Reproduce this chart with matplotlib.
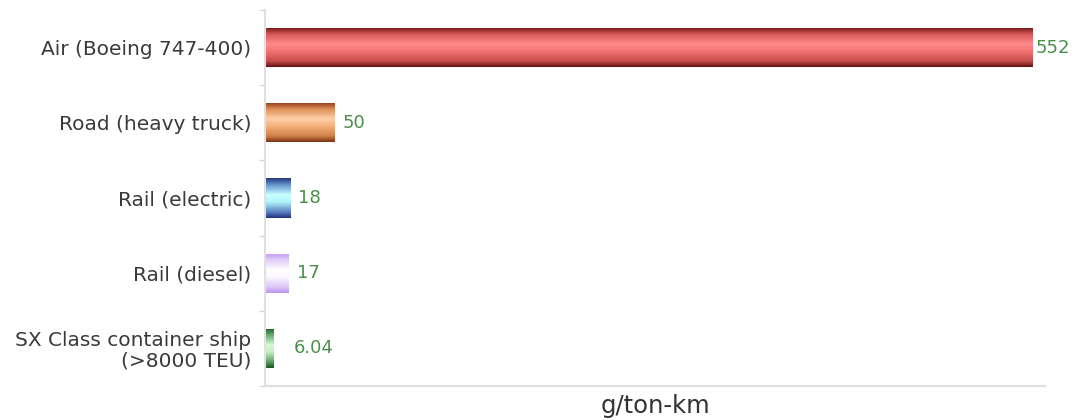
import numpy as np
import matplotlib
matplotlib.use("Agg")
import matplotlib.pyplot as plt
from matplotlib.colors import LinearSegmentedColormap

# CO2 emissions by freight transport mode
categories = [
    "Air (Boeing 747-400)",
    "Road (heavy truck)",
    "Rail (electric)",
    "Rail (diesel)",
    "SX Class container ship\n(>8000 TEU)",
]
values = [552, 50, 18, 17, 6.04]
value_labels = ["552", "50", "18", "17", "6.04"]
unit_label = "g/ton-km"

# cylinder-style shading per bar: edge -> highlight -> edge
bar_shades = [
    ["#6a1212", "#d85858", "#ff8c8c", "#f47474", "#c84c4c", "#5e1010"],
    ["#8a3a14", "#e0905a", "#ffd0a8", "#f6b07a", "#d08048", "#7a3010"],
    ["#26367e", "#6a9ad0", "#c8ffff", "#b0f4fa", "#5a80c0", "#22307a"],
    ["#c29af0", "#e2cff8", "#ffffff", "#fbf7ff", "#dcc6f6", "#bd92ee"],
    ["#1c5a26", "#6aae70", "#d8f8d8", "#c6eec6", "#5a9c60", "#185222"],
]
label_pad = [2, 6, 6, 6, 15]

fig = plt.figure(figsize=(10.81, 4.2), dpi=100)
ax = fig.add_axes([0.2451, 0.081, 0.7216, 0.895])

y = np.arange(len(categories))
bars = ax.barh(y, values, height=0.52, color="none", edgecolor="none")

grad = np.linspace(0, 1, 256).reshape(-1, 1)
for bar, shades in zip(bars, bar_shades):
    cmap = LinearSegmentedColormap.from_list(
        "shade", list(zip([0.0, 0.18, 0.42, 0.6, 0.85, 1.0], shades)))
    x0, y0 = bar.get_x(), bar.get_y()
    w, h = bar.get_width(), bar.get_height()
    im = ax.imshow(grad, cmap=cmap, aspect="auto", interpolation="bilinear",
                   extent=[x0, x0 + w, y0 + h, y0], zorder=2)
    im.set_clip_path(bar)

for bar, text, pad in zip(bars, value_labels, label_pad):
    ax.annotate(text, (bar.get_width(), bar.get_y() + bar.get_height() / 2),
                xytext=(pad, 0), textcoords="offset points",
                ha="left", va="center", fontsize=13, color="#4a8f4a")

ax.set_xlim(0, 561)
ax.set_ylim(len(categories) - 0.5, -0.5)
ax.set_yticks(y)
ax.set_yticklabels(categories, fontsize=14.5, color="#3a3a3a", linespacing=1.1)
ax.set_yticks(np.arange(len(categories) + 1) - 0.5, minor=True)
ax.tick_params(axis="y", which="major", length=0, pad=10)
ax.tick_params(axis="y", which="minor", length=4, color="#d8d8d8", width=1)
ax.set_xticks([])
for lbl in ax.get_yticklabels():
    lbl.set_multialignment("right")

for side in ("top", "right"):
    ax.spines[side].set_visible(False)
for side in ("left", "bottom"):
    ax.spines[side].set_color("#e0e0e0")
    ax.spines[side].set_linewidth(1.5)

ax.set_xlabel(unit_label, fontsize=17.5, color="#333333", labelpad=6)

fig.savefig("out.png", dpi=100)
